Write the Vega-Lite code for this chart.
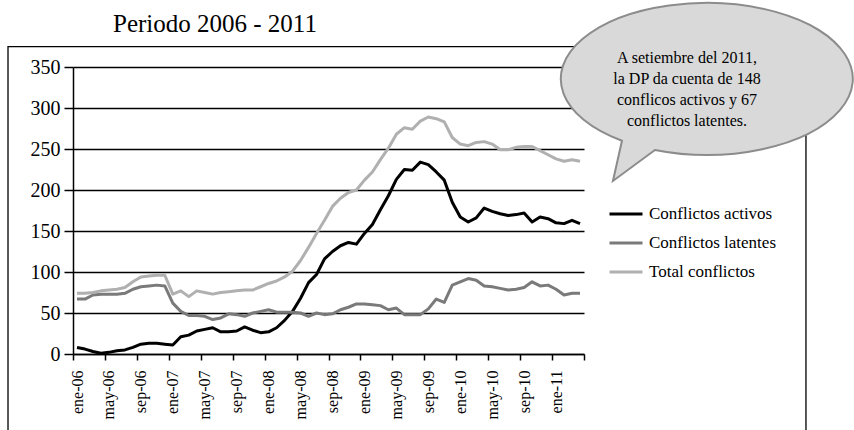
{
  "$schema": "https://vega.github.io/schema/vega-lite/v6.json",
  "width": 511,
  "height": 287,
  "autosize": "none",
  "padding": {"left": 73, "top": 67, "right": 270, "bottom": 76},
  "background": "white",
  "config": {"font": "Liberation Serif", "view": {"stroke": null}, "axis": {"labelFont": "Liberation Serif"}, "legend": {"labelFont": "Liberation Serif"}},
  "encoding": {
    "x": {"field": "i", "type": "quantitative", "scale": {"domain": [-0.5, 63.5], "nice": false, "zero": false},
      "axis": {"values": [-0.5, 3.5, 7.5, 11.5, 15.5, 19.5, 23.5, 27.5, 31.5, 35.5, 39.5, 43.5, 47.5, 51.5, 55.5, 59.5, 63.5],
        "labelExpr": "datum.value > 63 ? '' : (['ene','may','sep'][((datum.value + 0.5) % 12) / 4] + '-' + ((((datum.value + 0.5) / 12) + 6) < 10 ? '0' : '') + floor((datum.value + 0.5) / 12 + 6))",
        "labelAngle": -90, "labelOffset": 4, "grid": false, "tickSize": 6, "labelPadding": 10, "labelFontSize": 16, "labelFont": "Liberation Serif", "labelColor": "#000", "title": null, "domainColor": "#000", "domainWidth": 1.5, "tickColor": "#000", "tickWidth": 1.5, "labelFlush": false, "labelOverlap": false, "labelBound": false}},
    "y": {"field": "v", "type": "quantitative", "scale": {"domain": [0, 350], "nice": false},
      "axis": {"values": [0, 50, 100, 150, 200, 250, 300, 350], "grid": true, "gridColor": "#000", "gridWidth": 1.3, "domainColor": "#000", "domainWidth": 1.5, "tickColor": "#000", "tickWidth": 1.5, "tickSize": 9, "labelFontSize": 20, "labelFont": "Liberation Serif", "labelColor": "#000", "labelPadding": 4, "title": null}}
  },
  "layer": [
    {
      "data": {"values": [{"i": -8.64, "i2": 91.3, "v": 374.8, "v2": -110}]},
      "mark": {"type": "rect", "fill": null, "stroke": "#000", "strokeWidth": 1.3},
      "encoding": {"x2": {"field": "i2"}, "y2": {"field": "v2"}}
    },
    {
      "data": {"values": [{"i": 4.51, "v": 392.1, "t": "Periodo 2006 - 2011"}]},
      "mark": {"type": "text", "align": "left", "baseline": "alphabetic", "fontSize": 25, "font": "Liberation Serif", "color": "#000"},
      "encoding": {"text": {"field": "t"}}
    },
    {
      "data": {"values": [
        {"i":0,"mes":"ene-06","Conflictos activos":8,"Conflictos latentes":67,"Total conflictos":74},
        {"i":1,"mes":"feb-06","Conflictos activos":6,"Conflictos latentes":67,"Total conflictos":74},
        {"i":2,"mes":"mar-06","Conflictos activos":3,"Conflictos latentes":72,"Total conflictos":75},
        {"i":3,"mes":"abr-06","Conflictos activos":1,"Conflictos latentes":73,"Total conflictos":77},
        {"i":4,"mes":"may-06","Conflictos activos":2,"Conflictos latentes":73,"Total conflictos":78},
        {"i":5,"mes":"jun-06","Conflictos activos":4,"Conflictos latentes":73,"Total conflictos":79},
        {"i":6,"mes":"jul-06","Conflictos activos":5,"Conflictos latentes":74,"Total conflictos":81},
        {"i":7,"mes":"ago-06","Conflictos activos":8,"Conflictos latentes":79,"Total conflictos":88},
        {"i":8,"mes":"sep-06","Conflictos activos":12,"Conflictos latentes":82,"Total conflictos":94},
        {"i":9,"mes":"oct-06","Conflictos activos":13,"Conflictos latentes":83,"Total conflictos":95},
        {"i":10,"mes":"nov-06","Conflictos activos":13,"Conflictos latentes":84,"Total conflictos":96},
        {"i":11,"mes":"dic-06","Conflictos activos":12,"Conflictos latentes":83,"Total conflictos":96},
        {"i":12,"mes":"ene-07","Conflictos activos":11,"Conflictos latentes":62,"Total conflictos":73},
        {"i":13,"mes":"feb-07","Conflictos activos":21,"Conflictos latentes":52,"Total conflictos":77},
        {"i":14,"mes":"mar-07","Conflictos activos":23,"Conflictos latentes":47,"Total conflictos":70},
        {"i":15,"mes":"abr-07","Conflictos activos":28,"Conflictos latentes":47,"Total conflictos":77},
        {"i":16,"mes":"may-07","Conflictos activos":30,"Conflictos latentes":46,"Total conflictos":75},
        {"i":17,"mes":"jun-07","Conflictos activos":32,"Conflictos latentes":42,"Total conflictos":73},
        {"i":18,"mes":"jul-07","Conflictos activos":27,"Conflictos latentes":44,"Total conflictos":75},
        {"i":19,"mes":"ago-07","Conflictos activos":27,"Conflictos latentes":49,"Total conflictos":76},
        {"i":20,"mes":"sep-07","Conflictos activos":28,"Conflictos latentes":48,"Total conflictos":77},
        {"i":21,"mes":"oct-07","Conflictos activos":33,"Conflictos latentes":46,"Total conflictos":78},
        {"i":22,"mes":"nov-07","Conflictos activos":29,"Conflictos latentes":50,"Total conflictos":78},
        {"i":23,"mes":"dic-07","Conflictos activos":26,"Conflictos latentes":52,"Total conflictos":82},
        {"i":24,"mes":"ene-08","Conflictos activos":27,"Conflictos latentes":54,"Total conflictos":86},
        {"i":25,"mes":"feb-08","Conflictos activos":32,"Conflictos latentes":51,"Total conflictos":89},
        {"i":26,"mes":"mar-08","Conflictos activos":41,"Conflictos latentes":51,"Total conflictos":94},
        {"i":27,"mes":"abr-08","Conflictos activos":52,"Conflictos latentes":51,"Total conflictos":101},
        {"i":28,"mes":"may-08","Conflictos activos":68,"Conflictos latentes":50,"Total conflictos":114},
        {"i":29,"mes":"jun-08","Conflictos activos":87,"Conflictos latentes":46,"Total conflictos":130},
        {"i":30,"mes":"jul-08","Conflictos activos":97,"Conflictos latentes":50,"Total conflictos":147},
        {"i":31,"mes":"ago-08","Conflictos activos":116,"Conflictos latentes":48,"Total conflictos":163},
        {"i":32,"mes":"sep-08","Conflictos activos":125,"Conflictos latentes":49,"Total conflictos":180},
        {"i":33,"mes":"oct-08","Conflictos activos":132,"Conflictos latentes":54,"Total conflictos":190},
        {"i":34,"mes":"nov-08","Conflictos activos":136,"Conflictos latentes":57,"Total conflictos":197},
        {"i":35,"mes":"dic-08","Conflictos activos":134,"Conflictos latentes":61,"Total conflictos":200},
        {"i":36,"mes":"ene-09","Conflictos activos":147,"Conflictos latentes":61,"Total conflictos":212},
        {"i":37,"mes":"feb-09","Conflictos activos":158,"Conflictos latentes":60,"Total conflictos":222},
        {"i":38,"mes":"mar-09","Conflictos activos":176,"Conflictos latentes":59,"Total conflictos":237},
        {"i":39,"mes":"abr-09","Conflictos activos":193,"Conflictos latentes":54,"Total conflictos":251},
        {"i":40,"mes":"may-09","Conflictos activos":213,"Conflictos latentes":56,"Total conflictos":268},
        {"i":41,"mes":"jun-09","Conflictos activos":225,"Conflictos latentes":48,"Total conflictos":276},
        {"i":42,"mes":"jul-09","Conflictos activos":224,"Conflictos latentes":48,"Total conflictos":274},
        {"i":43,"mes":"ago-09","Conflictos activos":234,"Conflictos latentes":48,"Total conflictos":284},
        {"i":44,"mes":"sep-09","Conflictos activos":231,"Conflictos latentes":55,"Total conflictos":289},
        {"i":45,"mes":"oct-09","Conflictos activos":222,"Conflictos latentes":67,"Total conflictos":287},
        {"i":46,"mes":"nov-09","Conflictos activos":212,"Conflictos latentes":63,"Total conflictos":283},
        {"i":47,"mes":"dic-09","Conflictos activos":185,"Conflictos latentes":84,"Total conflictos":264},
        {"i":48,"mes":"ene-10","Conflictos activos":167,"Conflictos latentes":88,"Total conflictos":256},
        {"i":49,"mes":"feb-10","Conflictos activos":161,"Conflictos latentes":92,"Total conflictos":254},
        {"i":50,"mes":"mar-10","Conflictos activos":166,"Conflictos latentes":90,"Total conflictos":258},
        {"i":51,"mes":"abr-10","Conflictos activos":178,"Conflictos latentes":83,"Total conflictos":259},
        {"i":52,"mes":"may-10","Conflictos activos":174,"Conflictos latentes":82,"Total conflictos":256},
        {"i":53,"mes":"jun-10","Conflictos activos":171,"Conflictos latentes":80,"Total conflictos":249},
        {"i":54,"mes":"jul-10","Conflictos activos":169,"Conflictos latentes":78,"Total conflictos":249},
        {"i":55,"mes":"ago-10","Conflictos activos":170,"Conflictos latentes":79,"Total conflictos":252},
        {"i":56,"mes":"sep-10","Conflictos activos":172,"Conflictos latentes":81,"Total conflictos":253},
        {"i":57,"mes":"oct-10","Conflictos activos":161,"Conflictos latentes":88,"Total conflictos":253},
        {"i":58,"mes":"nov-10","Conflictos activos":167,"Conflictos latentes":83,"Total conflictos":248},
        {"i":59,"mes":"dic-10","Conflictos activos":165,"Conflictos latentes":84,"Total conflictos":243},
        {"i":60,"mes":"ene-11","Conflictos activos":160,"Conflictos latentes":79,"Total conflictos":238},
        {"i":61,"mes":"feb-11","Conflictos activos":159,"Conflictos latentes":72,"Total conflictos":235},
        {"i":62,"mes":"mar-11","Conflictos activos":163,"Conflictos latentes":74,"Total conflictos":237},
        {"i":63,"mes":"abr-11","Conflictos activos":159,"Conflictos latentes":74,"Total conflictos":235}
      ]},
      "transform": [{"fold": ["Conflictos activos", "Conflictos latentes", "Total conflictos"], "as": ["serie", "v"]}],
      "mark": {"type": "line", "strokeWidth": 3, "strokeJoin": "round"},
      "encoding": {
        "color": {"field": "serie", "type": "nominal",
          "scale": {"domain": ["Conflictos activos", "Conflictos latentes", "Total conflictos"], "range": ["#000000", "#7a7a7a", "#b0b0b0"]},
          "legend": {"orient": "none", "legendX": 535, "legendY": 129, "title": null, "symbolType": "stroke", "symbolSize": 1089, "symbolStrokeWidth": 3, "labelFontSize": 17, "labelFont": "Liberation Serif", "labelColor": "#000", "rowPadding": 3, "labelOffset": 5}}
      }
    },
    {
      "data": {"values": [{"i": 78.9, "v": 335.4}]},
      "mark": {"type": "point", "shape": "M -0.3467 0.4733 A 0.9733 0.5067 0 1 0 -0.5667 0.412 L -0.6267 0.68 Z", "size": 90000, "filled": true, "fill": "#d9d9d9", "stroke": "#8c8c8c", "strokeWidth": 2, "opacity": 1}
    },
    {
      "data": {"values": [{"i": 76.4, "v": 360.6, "t": "A setiembre del 2011,\nla DP da cuenta de 148\nconflicos activos y 67\nconflictos latentes."}]},
      "mark": {"type": "text", "lineBreak": "\n", "align": "center", "baseline": "middle", "fontSize": 16, "lineHeight": 21, "font": "Liberation Serif", "color": "#000"},
      "encoding": {"text": {"field": "t"}}
    }
  ]
}
